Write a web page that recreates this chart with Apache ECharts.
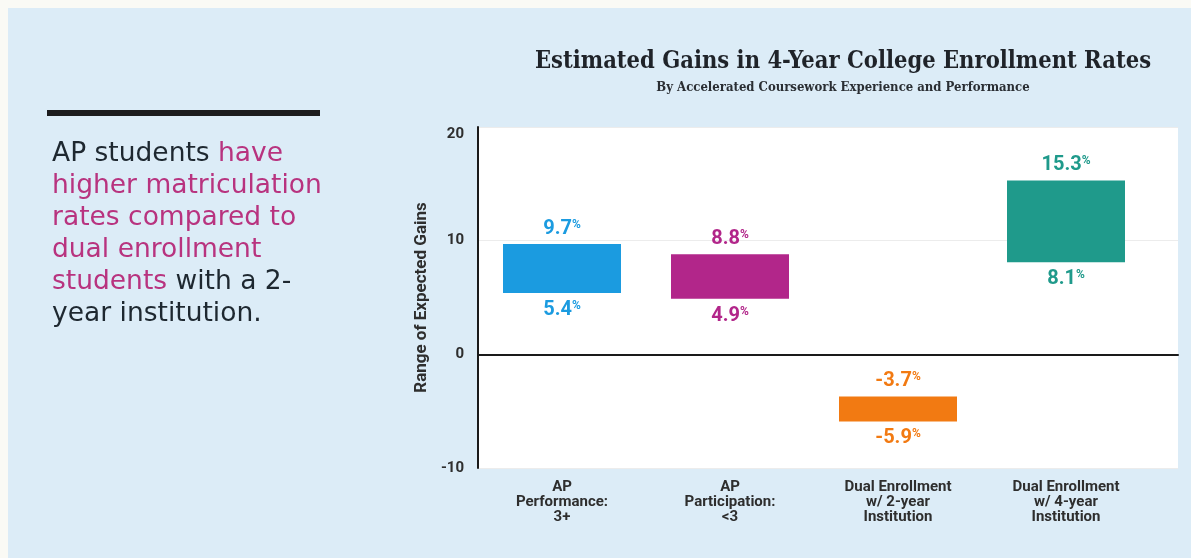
<!DOCTYPE html>
<html><head><meta charset="utf-8">
<script src="https://cdn.jsdelivr.net/npm/echarts@6/dist/echarts.min.js"></script>
<style>html,body{margin:0;padding:0;background:#fafaf5;}#c{width:1191px;height:558px;}</style>
</head><body><div id="c"></div>
<script>
const categories = ['AP\nPerformance:\n3+', 'AP\nParticipation:\n<3', 'Dual Enrollment\nw/ 2-year\nInstitution', 'Dual Enrollment\nw/ 4-year\nInstitution'];
const highValues = [9.7, 8.8, -3.7, 15.3];
const lowValues = [5.4, 4.9, -5.9, 8.1];
const barColors = ['#1b9be0', '#b2268a', '#f27a12', '#1f9a8b'];
const yTicks = [-10, 0, 10, 20];

const chart = echarts.init(document.getElementById('c'), null, {renderer: 'canvas'});

// transparent base + visible span, stacked (same-sign stacking)
const baseVals = highValues.map((h, i) => h >= 0 ? lowValues[i] : h);
const spanVals = highValues.map((h, i) => h >= 0 ? +(h - lowValues[i]).toFixed(2) : +(lowValues[i] - h).toFixed(2));

const FONT = 'Roboto, Liberation Sans, sans-serif';
function pctLabel(v) { return '{v|' + v.toFixed(1) + '}{p|%}'; }
function labelFor(v, i, pos, dist) {
  return {
    show: true, position: pos, distance: dist, formatter: pctLabel(v),
    color: barColors[i], textBorderWidth: 0, opacity: 1,
    rich: {
      v: {fontSize: 20, fontWeight: 'bold', color: barColors[i], fontFamily: FONT, textBorderWidth: 0},
      p: {fontSize: 12, fontWeight: 'bold', color: barColors[i], padding: [0, 0, 8, 0], fontFamily: FONT, textBorderWidth: 0}
    }
  };
}

const topPts = highValues.map((v, i) => ({value: [categories[i], v], label: labelFor(v, i, 'top', 5)}));
const botPts = lowValues.map((v, i) => ({value: [categories[i], v], label: labelFor(v, i, 'bottom', 7)}));

const leftText = [
  '{d|AP students }{m|have}',
  '{m|higher matriculation}',
  '{m|rates compared to}',
  '{m|dual enrollment}',
  '{m|students}{d| with a 2-}',
  '{d|year institution.}'
].join('\n');

const option = {
  backgroundColor: '#fafaf5',
  animation: false,
  title: {
    text: 'Estimated Gains in 4-Year College Enrollment Rates',
    subtext: 'By Accelerated Coursework Experience and Performance',
    left: 838, top: 45, textAlign: 'center', itemGap: 7,
    textStyle: {fontFamily: 'DejaVu Serif Condensed, DejaVu Serif, serif', fontWeight: 'bold', fontSize: 23.5, color: '#1f2329'},
    subtextStyle: {fontFamily: 'DejaVu Serif Condensed, DejaVu Serif, serif', fontWeight: 'bold', fontSize: 13, color: '#2a2e33'}
  },
  graphic: [
    {type: 'rect', z: -10, shape: {x: 8, y: 8, width: 1183, height: 550}, style: {fill: '#dcecf7'}},
    {type: 'rect', shape: {x: 47, y: 110, width: 273, height: 6}, style: {fill: '#1c1c1e'}},
    {type: 'text', left: 52, top: 141, style: {
      text: leftText,
      rich: {
        d: {fontFamily: 'DejaVu Sans, sans-serif', fontSize: 26.5, fill: '#1e2830', lineHeight: 32},
        m: {fontFamily: 'DejaVu Sans, sans-serif', fontSize: 26.5, fill: '#b8337f', lineHeight: 32}
      }
    }}
  ],
  grid: [
    {left: 478, top: 127, width: 700, height: 341, show: true, backgroundColor: '#ffffff', borderWidth: 0},
    {left: 478, top: 127, width: 672, height: 341}
  ],
  xAxis: [
    {gridIndex: 0, type: 'value', min: 0, max: 1, axisLine: {show: true, onZero: true, lineStyle: {color: '#1a1a1a', width: 2}},
     axisTick: {show: false}, axisLabel: {show: false}, splitLine: {show: false}},
    {gridIndex: 1, type: 'category', data: categories, axisLine: {show: false}, axisTick: {show: false},
     axisLabel: {margin: 12, fontFamily: FONT, fontWeight: 'bold', fontSize: 15, lineHeight: 15, color: '#2e2e2e'}}
  ],
  yAxis: [
    {gridIndex: 0, type: 'value', min: yTicks[0], max: yTicks[yTicks.length - 1], interval: 10,
     name: 'Range of Expected Gains', nameLocation: 'middle', nameRotate: 90, nameGap: 48,
     nameTextStyle: {fontFamily: FONT, fontWeight: 'bold', fontSize: 17, color: '#2e2e2e'},
     axisLine: {show: true, lineStyle: {color: '#1a1a1a', width: 2}}, axisTick: {show: false},
     axisLabel: {margin: 14, fontFamily: FONT, fontWeight: 'bold', fontSize: 15, color: '#2e2e2e', verticalAlignMaxLabel: 'top'},
     splitLine: {show: true, lineStyle: {color: '#ececec', width: 1}}},
    {gridIndex: 1, type: 'value', min: yTicks[0], max: yTicks[yTicks.length - 1], interval: 10, show: false, splitLine: {show: false}}
  ],
  series: [
    {type: 'bar', xAxisIndex: 1, yAxisIndex: 1, stack: 'r', barWidth: 118, itemStyle: {color: 'transparent'}, data: baseVals, silent: true},
    {type: 'bar', xAxisIndex: 1, yAxisIndex: 1, stack: 'r', barWidth: 118,
     data: spanVals.map((v, i) => ({value: v, itemStyle: {color: barColors[i]}}))},
    {type: 'scatter', xAxisIndex: 1, yAxisIndex: 1, symbolSize: 0, itemStyle: {opacity: 1}, data: topPts},
    {type: 'scatter', xAxisIndex: 1, yAxisIndex: 1, symbolSize: 0, itemStyle: {opacity: 1}, data: botPts}
  ]
};
chart.setOption(option);
</script></body></html>
